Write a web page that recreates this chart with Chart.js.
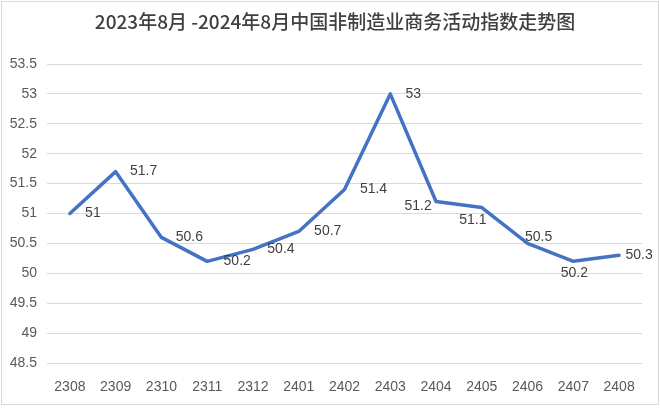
<!DOCTYPE html>
<html>
<head>
<meta charset="utf-8">
<script src="https://cdn.jsdelivr.net/npm/chart.js@4.4.1/dist/chart.umd.min.js"></script>
<style>
    html, body { margin: 0; padding: 0; background: #fff; overflow: hidden; }
    canvas { display: block; }
</style>
</head>
<body>
<canvas id="pmi-chart" width="660" height="408"></canvas>
<script>
// --- Data ---
const months = ['2308', '2309', '2310', '2311', '2312', '2401', '2402', '2403', '2404', '2405', '2406', '2407', '2408'];
const indexValues = [51, 51.7, 50.6, 50.2, 50.4, 50.7, 51.4, 53, 51.2, 51.1, 50.5, 50.2, 50.3];
const yTicks = [48.5, 49, 49.5, 50, 50.5, 51, 51.5, 52, 52.5, 53, 53.5];
const chartTitle = '2023年8月 -2024年8月中国非制造业商务活动指数走势图';

// label placement relative to each point (dx, dy in px), as in the original
const labelOffsets = [
    [23, 0], [28, 0], [28, 0], [30, 0], [28, 0], [29, 0], [29, 0],
    [23, 0], [-18, 5], [-9, 13], [11, -6], [1, 12], [20, 0]
];

const tickFont = { family: '"Liberation Sans", Arial, sans-serif', size: 14 };

// title, border and value labels
const decorPlugin = {
    id: 'decor',
    afterDraw(chart) {
        const ctx = chart.ctx;
        ctx.save();
        ctx.strokeStyle = '#d9d9d9';
        ctx.lineWidth = 1;
        ctx.strokeRect(1.5, 1.5, 657, 403);

        ctx.fillStyle = '#404040';
        ctx.font = '500 19px "Noto Sans CJK SC", sans-serif';
        ctx.textAlign = 'center';
        ctx.textBaseline = 'middle';
        ctx.fillText(chartTitle, 335, 22);

        const meta = chart.getDatasetMeta(0);
        ctx.fillStyle = '#404040';
        ctx.font = '14px "Liberation Sans", Arial, sans-serif';
        meta.data.forEach((pt, i) => {
            const off = labelOffsets[i];
            ctx.fillText(String(indexValues[i]), pt.x + off[0], pt.y + off[1]);
        });
        ctx.restore();
    }
};

new Chart(document.getElementById('pmi-chart').getContext('2d'), {
    type: 'line',
    data: {
        labels: months,
        datasets: [{
            label: '非制造业商务活动指数',
            data: indexValues,
            borderColor: '#4472C4',
            borderWidth: 3.5,
            borderJoinStyle: 'round',
            borderCapStyle: 'round',
            pointRadius: 0,
            fill: false,
            tension: 0
        }]
    },
    options: {
        responsive: false,
        animation: false,
        layout: { padding: { top: 64, right: 18, left: 0, bottom: 0 } },
        plugins: {
            legend: { display: false },
            title: { display: false },
            tooltip: { enabled: false }
        },
        scales: {
            x: {
                offset: true,
                grid: { display: false },
                border: { display: false },
                ticks: { color: '#595959', font: tickFont, padding: 8, maxRotation: 0 },
                afterFit(scale) { scale.height = 45; }
            },
            y: {
                min: yTicks[0],
                max: yTicks[yTicks.length - 1],
                afterBuildTicks(scale) { scale.ticks = yTicks.map(v => ({ value: v })); },
                grid: { color: '#d9d9d9', lineWidth: 1, drawTicks: false },
                border: { display: false },
                ticks: {
                    color: '#595959',
                    font: tickFont,
                    padding: 10,
                    callback: v => String(+(+v).toFixed(1))
                },
                afterFit(scale) { scale.width = 47; }
            }
        }
    },
    plugins: [decorPlugin]
});
</script>
</body>
</html>
